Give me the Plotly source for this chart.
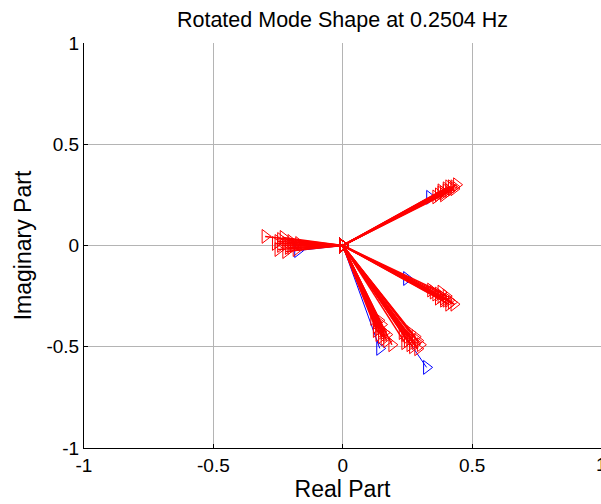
import plotly.graph_objects as go

# Blue mode-shape vectors (real, imaginary)
blue_re = [0.336, 0.247, 0.143, 0.324, -0.174]
blue_im = [0.238, -0.163, -0.508, -0.602, -0.025]

# Red mode-shape vectors (real, imaginary), grouped by cluster
red_re = [
    0.0,
    # upper right
    0.37, 0.38, 0.39, 0.40, 0.41, 0.42, 0.43, 0.44, 0.40, 0.42, 0.38, 0.41, 0.43, 0.39, 0.36,
    # left
    -0.30, -0.23, -0.25, -0.24, -0.25, -0.22, -0.21, -0.20, -0.19, -0.18, -0.22, -0.24, -0.20, -0.17, -0.26,
    # lower right (shallow)
    0.34, 0.35, 0.36, 0.37, 0.38, 0.39, 0.40, 0.41, 0.42, 0.43, 0.37, 0.39, 0.41, 0.38, 0.40,
    # lower cluster A
    0.12, 0.13, 0.13, 0.14, 0.15, 0.14, 0.15, 0.16, 0.16, 0.17, 0.13, 0.15, 0.17, 0.19, 0.14,
    # lower cluster B
    0.23, 0.24, 0.25, 0.26, 0.27, 0.28, 0.26, 0.27, 0.29, 0.30, 0.25, 0.28, 0.29, 0.26, 0.24,
]
red_im = [
    0.0,
    0.25, 0.26, 0.26, 0.27, 0.27, 0.28, 0.29, 0.30, 0.28, 0.29, 0.27, 0.29, 0.28, 0.25, 0.24,
    0.045, 0.04, 0.02, 0.0, -0.02, 0.01, -0.01, 0.02, 0.0, -0.02, -0.03, 0.03, -0.01, 0.01, 0.01,
    -0.22, -0.23, -0.24, -0.24, -0.25, -0.26, -0.27, -0.27, -0.28, -0.29, -0.26, -0.27, -0.29, -0.23, -0.25,
    -0.36, -0.38, -0.40, -0.41, -0.42, -0.44, -0.45, -0.43, -0.46, -0.44, -0.42, -0.39, -0.47, -0.49, -0.37,
    -0.43, -0.44, -0.45, -0.46, -0.47, -0.48, -0.49, -0.50, -0.47, -0.49, -0.47, -0.45, -0.51, -0.43, -0.48,
]

tick_vals = [-1, -0.5, 0, 0.5, 1]
tick_text = ["-1", "-0.5", "0", "0.5", "1"]


def spokes(re, im):
    xs, ys = [], []
    for a, b in zip(re, im):
        xs += [0, a, None]
        ys += [0, b, None]
    return xs, ys


fig = go.Figure()
bx, by = spokes(blue_re, blue_im)
fig.add_trace(go.Scatter(x=bx, y=by, mode="lines+markers",
                         line=dict(color="#0000ff", width=1),
                         marker=dict(symbol="triangle-right-open", size=12,
                                     color="#0000ff", line=dict(width=1)),
                         connectgaps=False, showlegend=False))
rx, ry = spokes(red_re, red_im)
fig.add_trace(go.Scatter(x=rx, y=ry, mode="lines+markers",
                         line=dict(color="#ff0000", width=1.5),
                         marker=dict(symbol="triangle-right-open", size=12,
                                     color="#ff0000", line=dict(width=1)),
                         connectgaps=False, showlegend=False))

font = "Liberation Sans, Arial, sans-serif"
fig.update_layout(
    width=601, height=504,
    margin=dict(l=84, r=0, t=43, b=56),
    paper_bgcolor="white", plot_bgcolor="white",
    font=dict(family=font, size=19, color="black"),
    title=dict(text="Rotated Mode Shape at 0.2504 Hz", x=0.5, xref="paper",
               xanchor="center", y=0.962, yanchor="middle",
               font=dict(size=21.5)),
    xaxis=dict(range=[-1, 0.998], tickvals=tick_vals, ticktext=tick_text,
               showgrid=True, gridcolor="#b4b4b4", gridwidth=1,
               zeroline=False, showline=True, linecolor="black", linewidth=1,
               ticks="inside", ticklen=4, tickcolor="black",
               title=dict(text="Real Part", standoff=4)),
    yaxis=dict(range=[-1, 1], tickvals=tick_vals, ticktext=tick_text,
               showgrid=True, gridcolor="#b4b4b4", gridwidth=1,
               zeroline=False, showline=True, linecolor="black", linewidth=1,
               ticks="inside", ticklen=4, tickcolor="black",
               title=dict(text="Imaginary Part", standoff=8)),
)
fig.add_annotation(x=1, y=-1, xref="paper", yref="y", text="1", showarrow=False,
                   xanchor="left", xshift=-7, yanchor="top", yshift=-4,
                   font=dict(size=19))
fig.write_html("out.html")
